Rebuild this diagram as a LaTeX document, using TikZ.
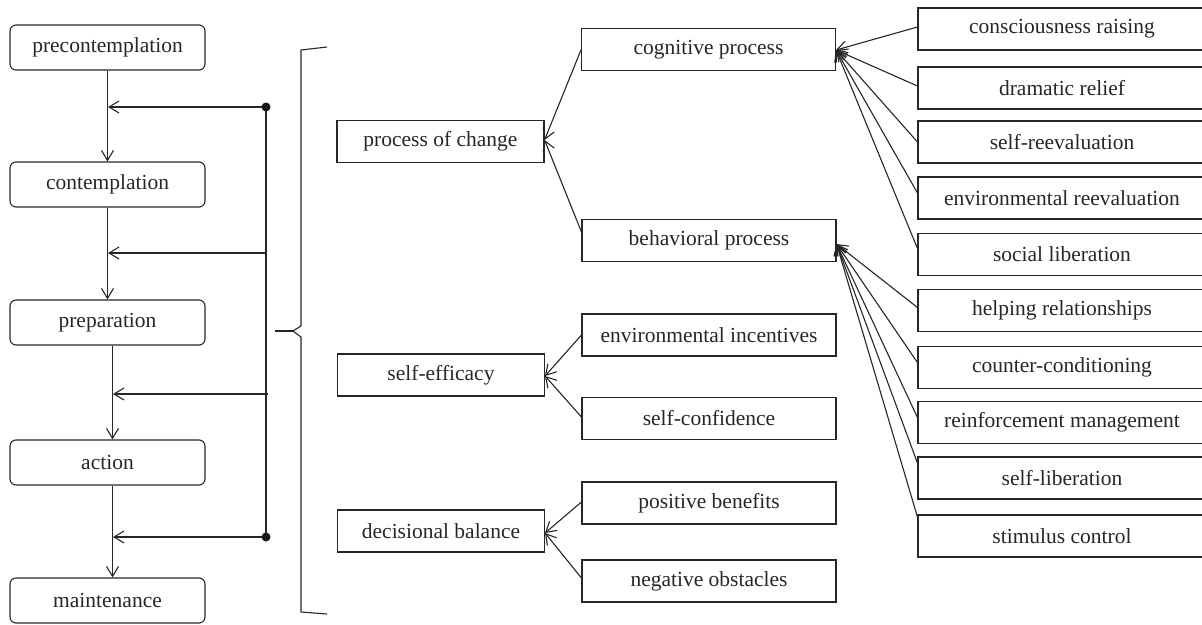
\documentclass[tikz,border=0pt]{standalone}
\usepackage{fontspec}
\setmainfont{Liberation Serif}
\usetikzlibrary{arrows.meta,calc}
\begin{document}
\begin{tikzpicture}[x=1pt,y=-1pt,
  every node/.style={font=\fontsize{21.5}{25}\selectfont, text=black!85},
  ln/.style={draw=black!85, line width=1.1pt},
  arr/.style={ln, -{Straight Barb[length=10pt,width=12pt,line width=1.1pt]}},
  stage/.style={ln, rounded corners=6pt, minimum width=195pt, minimum height=45pt, inner sep=0pt},
  catbox/.style={ln, rectangle, minimum width=207pt, minimum height=42pt, inner sep=0pt},
  subbox/.style={ln, rectangle, minimum width=254pt, minimum height=42pt, inner sep=0pt},
  leafbox/.style={ln, rectangle, minimum width=288pt, minimum height=42pt, inner sep=0pt},
  dotc/.style={fill=black!90}
]
\useasboundingbox (0,0) rectangle (1202,624);
\clip (0,0) rectangle (1202,624);

% stages
\node[stage] (pre)  at (107.5,47.5)  {precontemplation};
\node[stage] (con)  at (107.5,184.5) {contemplation};
\node[stage] (prep) at (107.5,322.5) {preparation};
\node[stage] (act)  at (107.5,462.5) {action};
\node[stage] (main) at (107.5,600.5) {maintenance};

% stage arrows
\draw[arr] (pre.south) -- (con.north);
\draw[arr] (con.south) -- (prep.north);
\draw[arr] ($(prep.south)+(5,0)$) -- ($(act.north)+(5,0)$);
\draw[arr] ($(act.south)+(5,0)$) -- ($(main.north)+(5,0)$);

% feedback line
\coordinate (f1) at (266,107);
\coordinate (f2) at (266,253);
\coordinate (f3) at (268,394);
\coordinate (f4) at (266,537);
\coordinate (t1) at (108,107);
\coordinate (t2) at (108,253);
\coordinate (t3) at (113,394);
\coordinate (t4) at (113,537);
\draw[ln] (f1) -- (f4);
\draw[arr] (f1) -- (t1);
\draw[arr] (f2) -- (t2);
\draw[arr] (f3) -- (t3);
\draw[arr] (f4) -- (t4);
\fill[dotc] (f1) circle (4.5);
\fill[dotc] (f4) circle (4.5);

% brace
\coordinate (bt) at (327,47);
\coordinate (bb) at (327,614);
\coordinate (btip) at (275,331);
\draw[ln] (bt) -- (301,50) -- (301,326) -- (293,331) -- (301,337) -- (301,612) -- (bb);
\draw[ln, line width=1.6pt] (btip) -- (293,331);

% categories
\node[catbox] (poc) at (440.5,141.5) {process of change};
\node[catbox] (se)  at (441,375)     {self-efficacy};
\node[catbox] (db)  at (441,531)     {decisional balance};

% sub categories
\node[subbox] (cog) at (708.5,49.5) {cognitive process};
\node[subbox] (beh) at (709,240.5)  {behavioral process};
\node[subbox] (ei)  at (709,335)    {environmental incentives};
\node[subbox] (sc)  at (709,418.5)  {self-confidence};
\node[subbox] (pb)  at (709,503)    {positive benefits};
\node[subbox] (no)  at (709,581)    {negative obstacles};

% leaves
\node[leafbox] (cr)  at (1062,29)    {consciousness raising};
\node[leafbox] (dr)  at (1062,88)    {dramatic relief};
\node[leafbox] (sr)  at (1062,142)   {self-reevaluation};
\node[leafbox] (er)  at (1062,198)   {environmental reevaluation};
\node[leafbox] (sl)  at (1062,254.5) {social liberation};
\node[leafbox] (hr)  at (1062,310.5) {helping relationships};
\node[leafbox] (cc)  at (1062,367.5) {counter-conditioning};
\node[leafbox] (rm)  at (1062,422.5) {reinforcement management};
\node[leafbox] (sli) at (1062,478)   {self-liberation};
\node[leafbox] (stc) at (1062,536)   {stimulus control};

% leaf -> sub arrows
\coordinate (cogT) at ($(cog.east)+(0,0.5)$);
\coordinate (behT) at ($(beh.east)+(0,3.5)$);
\draw[arr] ($(cr.west)+(0,-2)$)  -- (cogT);
\draw[arr] ($(dr.west)+(0,-2)$)  -- (cogT);
\draw[arr] (sr.west)             -- (cogT);
\draw[arr] ($(er.west)+(0,-5)$)  -- (cogT);
\draw[arr] ($(sl.west)+(0,-6)$)  -- (cogT);
\draw[arr] ($(hr.west)+(0,-3)$)  -- (behT);
\draw[arr] ($(cc.west)+(0,-5)$)  -- (behT);
\draw[arr] ($(rm.west)+(0,-5)$)  -- (behT);
\draw[arr] ($(sli.west)+(0,-15)$) -- (behT);
\draw[arr] ($(stc.west)+(0,-19)$) -- (behT);

% sub -> category arrows
\draw[arr] ($(cog.west)+(0,0.5)$) -- ($(poc.east)+(0,-1.5)$);
\draw[arr] ($(beh.west)+(0,-8.5)$) -- ($(poc.east)+(0,-1.5)$);
\draw[arr] (ei.west) -- ($(se.east)+(0,1)$);
\draw[arr] ($(sc.west)+(0,-1.5)$) -- ($(se.east)+(0,1)$);
\draw[arr] ($(pb.west)+(0,-1)$) -- ($(db.east)+(0,2)$);
\draw[arr] ($(no.west)+(0,-3)$) -- ($(db.east)+(0,2)$);
\end{tikzpicture}
\end{document}
